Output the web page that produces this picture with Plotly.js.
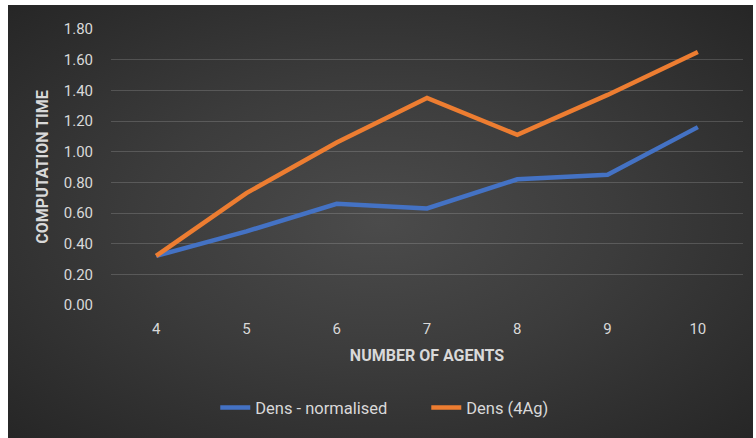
<!DOCTYPE html>
<html>
<head>
<meta charset="utf-8">
<script src="https://cdn.plot.ly/plotly-3.0.1.min.js"></script>
<style>
  html, body { margin: 0; padding: 0; background: #ffffff; width: 756px; height: 438px; overflow: hidden; }
  #bg { position: absolute; left: 8px; top: 5px; width: 745px; height: 433px;
        background: radial-gradient(ellipse at 50% 50%, #4b4b4b 0%, #3c3c3c 45%, #262626 100%); }
  #chart { position: absolute; left: 0; top: 0; width: 756px; height: 438px; }
</style>
</head>
<body>
<div id="bg"></div>
<div id="chart"></div>
<script>
const agents = ['4', '5', '6', '7', '8', '9', '10'];
const densNormalised = [0.32, 0.48, 0.66, 0.63, 0.82, 0.85, 1.16];
const dens4Ag = [0.32, 0.73, 1.06, 1.35, 1.11, 1.37, 1.65];
const yTickVals = [0, 0.2, 0.4, 0.6, 0.8, 1.0, 1.2, 1.4, 1.6, 1.8];
const yTickText = ['0.00', '0.20', '0.40', '0.60', '0.80', '1.00', '1.20', '1.40', '1.60', '1.80'];

const FONT = 'Roboto, "Liberation Sans Narrow", "DejaVu Sans Condensed", sans-serif';
const TXT = '#d9d9d9';

const traces = [
  { x: agents, y: densNormalised, type: 'scatter', mode: 'lines', name: 'Dens - normalised',
    line: { color: '#4472C4', width: 4.5 } },
  { x: agents, y: dens4Ag, type: 'scatter', mode: 'lines', name: 'Dens (4Ag)',
    line: { color: '#ED7D31', width: 4.5 } }
];

const layout = {
  width: 756, height: 438,
  paper_bgcolor: 'rgba(0,0,0,0)', plot_bgcolor: 'rgba(0,0,0,0)',
  margin: { l: 111, r: 13, t: 29, b: 133 },
  font: { family: FONT, color: TXT, size: 15 },
  showlegend: true,
  legend: { orientation: 'h', x: 0.165, xanchor: 'left', y: -0.372, yanchor: 'middle',
            font: { family: FONT, color: TXT, size: 16.5 }, bgcolor: 'rgba(0,0,0,0)',
            entrywidth: 166, entrywidthmode: 'pixels' },
  xaxis: {
    type: 'category', range: [-0.5, 6.5],
    showgrid: false, zeroline: false, showline: false,
    ticks: '', ticklabelstandoff: 13,
    tickfont: { family: FONT, color: TXT, size: 15 },
    title: { text: 'NUMBER OF AGENTS', standoff: 12, font: { family: FONT, color: TXT, size: 16, weight: 'bold' } }
  },
  yaxis: {
    range: [0, 1.8], tickvals: yTickVals, ticktext: yTickText,
    showgrid: true, gridcolor: 'rgba(255,255,255,0.16)', gridwidth: 1,
    zeroline: false, showline: false, ticks: '', ticklabelstandoff: 17,
    tickfont: { family: FONT, color: TXT, size: 15 },
    title: { text: 'COMPUTATION TIME', standoff: 11, font: { family: FONT, color: TXT, size: 16, weight: 'bold' } }
  }
};

Plotly.newPlot('chart', traces, layout, { displayModeBar: false, staticPlot: true });
</script>
</body>
</html>
